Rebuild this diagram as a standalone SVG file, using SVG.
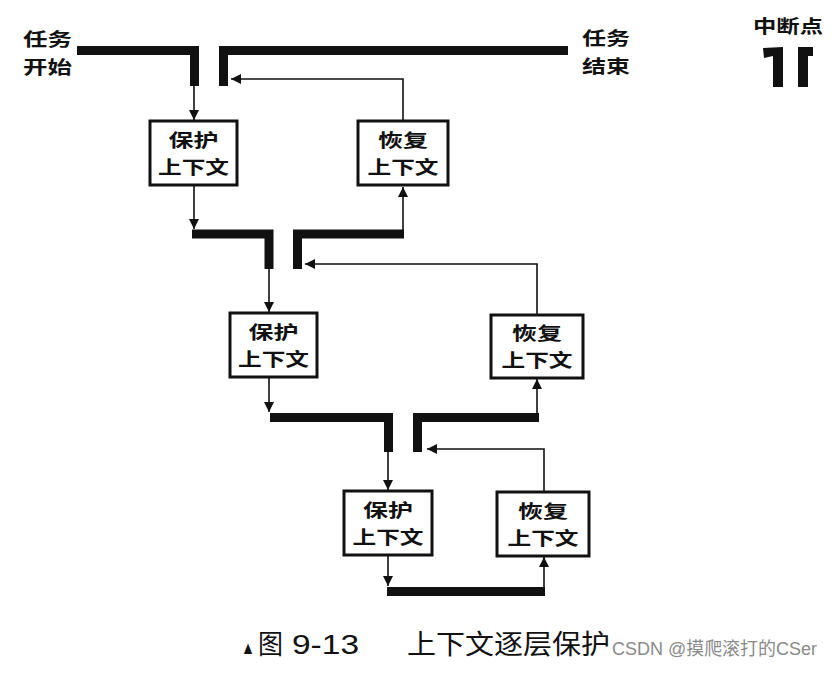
<svg xmlns="http://www.w3.org/2000/svg" width="834" height="675" viewBox="0 0 834 675">
<style>
.bar{fill:none;stroke:#111;stroke-width:9;stroke-linejoin:miter;stroke-linecap:butt}
.con{fill:none;stroke:#111;stroke-width:1.6}
.box{fill:#fff;stroke:#111;stroke-width:3}
.bt{font-family:"Noto Sans CJK SC","Noto Sans",sans-serif;font-weight:700;font-size:18px;fill:#111;text-anchor:middle}
.lbl{font-family:"Noto Sans CJK SC","Noto Sans",sans-serif;font-weight:700;font-size:18.5px;fill:#111}
.cap{font-family:"Liberation Sans","Noto Sans CJK SC",sans-serif;font-size:27px;fill:#111}
.wm{font-family:"Liberation Sans","Noto Sans CJK SC",sans-serif;font-size:18px;fill:#8a8a8a}
</style>
<defs>
<marker id="ah" viewBox="0 0 10 10" refX="10" refY="5" markerWidth="10" markerHeight="10" markerUnits="userSpaceOnUse" orient="auto">
<path d="M0,0 L10,5 L0,10 Z" fill="#111"/>
</marker>
</defs>
<rect width="834" height="675" fill="#fff"/>

<g id="bars">
<path class="bar" d="M77,50.5 H194.5 V86"/>
<path class="bar" d="M568,50.5 H223.5 V86"/>
<path class="bar" d="M192,234 H269 V269"/>
<path class="bar" d="M404,234 H297.5 V269"/>
<path class="bar" d="M270,417.5 H388.5 V452"/>
<path class="bar" d="M539,417.5 H417.5 V452"/>
<path class="bar" d="M387,591.5 H545"/>
</g>

<g id="connectors">
<path class="con" d="M194,86 V120" marker-end="url(#ah)"/>
<path class="con" d="M403,121 V79 H231" marker-end="url(#ah)"/>
<path class="con" d="M194,185 V229" marker-end="url(#ah)"/>
<path class="con" d="M403,230 V187" marker-end="url(#ah)"/>
<path class="con" d="M269,269 V312" marker-end="url(#ah)"/>
<path class="con" d="M537,315 V264 H305" marker-end="url(#ah)"/>
<path class="con" d="M269,377 V412" marker-end="url(#ah)"/>
<path class="con" d="M537,413 V379" marker-end="url(#ah)"/>
<path class="con" d="M388,452 V490" marker-end="url(#ah)"/>
<path class="con" d="M544,492 V449 H427" marker-end="url(#ah)"/>
<path class="con" d="M388,555 V586" marker-end="url(#ah)"/>
<path class="con" d="M544,587 V557" marker-end="url(#ah)"/>
</g>

<g id="save1">
<rect class="box" x="150" y="121" width="87" height="64"/>
<text class="bt"><tspan x="193.5" y="147" textLength="50" lengthAdjust="spacingAndGlyphs">保护</tspan><tspan x="193.5" y="174" textLength="71" lengthAdjust="spacingAndGlyphs">上下文</tspan></text>
</g>
<g id="restore1">
<rect class="box" x="358" y="121" width="90" height="64"/>
<text class="bt"><tspan x="403" y="147" textLength="50" lengthAdjust="spacingAndGlyphs">恢复</tspan><tspan x="403" y="174" textLength="71" lengthAdjust="spacingAndGlyphs">上下文</tspan></text>
</g>
<g id="save2">
<rect class="box" x="230" y="313" width="87" height="64"/>
<text class="bt"><tspan x="273.5" y="339" textLength="50" lengthAdjust="spacingAndGlyphs">保护</tspan><tspan x="273.5" y="366" textLength="71" lengthAdjust="spacingAndGlyphs">上下文</tspan></text>
</g>
<g id="restore2">
<rect class="box" x="491" y="315" width="92" height="63"/>
<text class="bt"><tspan x="537" y="340" textLength="50" lengthAdjust="spacingAndGlyphs">恢复</tspan><tspan x="537" y="367" textLength="71" lengthAdjust="spacingAndGlyphs">上下文</tspan></text>
</g>
<g id="save3">
<rect class="box" x="344" y="491" width="88" height="64"/>
<text class="bt"><tspan x="388" y="517" textLength="50" lengthAdjust="spacingAndGlyphs">保护</tspan><tspan x="388" y="544" textLength="71" lengthAdjust="spacingAndGlyphs">上下文</tspan></text>
</g>
<g id="restore3">
<rect class="box" x="497" y="492" width="92" height="64"/>
<text class="bt"><tspan x="543" y="518" textLength="50" lengthAdjust="spacingAndGlyphs">恢复</tspan><tspan x="543" y="545" textLength="71" lengthAdjust="spacingAndGlyphs">上下文</tspan></text>
</g>

<g id="task-start">
<text class="lbl"><tspan x="23" y="46" textLength="49" lengthAdjust="spacingAndGlyphs">任务</tspan><tspan x="23" y="74" textLength="49" lengthAdjust="spacingAndGlyphs">开始</tspan></text>
</g>
<g id="task-end">
<text class="lbl"><tspan x="582" y="45" textLength="48" lengthAdjust="spacingAndGlyphs">任务</tspan><tspan x="582" y="73" textLength="48" lengthAdjust="spacingAndGlyphs">结束</tspan></text>
</g>
<g id="legend">
<text class="lbl" x="753" y="33" textLength="70" lengthAdjust="spacingAndGlyphs">中断点</text>
<polygon points="763,48 783,47 783,87 773,87 773,56 764,58" fill="#111"/>
<polygon points="798,47 813,47 813,56 808,56 808,87 798,87" fill="#111"/>
</g>

<g id="caption">
<text class="cap" y="654"><tspan x="241" font-size="18" textLength="14" lengthAdjust="spacingAndGlyphs">▲</tspan><tspan x="258" textLength="25" lengthAdjust="spacingAndGlyphs">图</tspan><tspan x="292" textLength="67" lengthAdjust="spacingAndGlyphs">9-13</tspan><tspan x="407" textLength="203" lengthAdjust="spacingAndGlyphs">上下文逐层保护</tspan></text>
<text class="wm" x="612" y="655" textLength="205" lengthAdjust="spacingAndGlyphs">CSDN @摸爬滚打的CSer</text>
</g>
</svg>
